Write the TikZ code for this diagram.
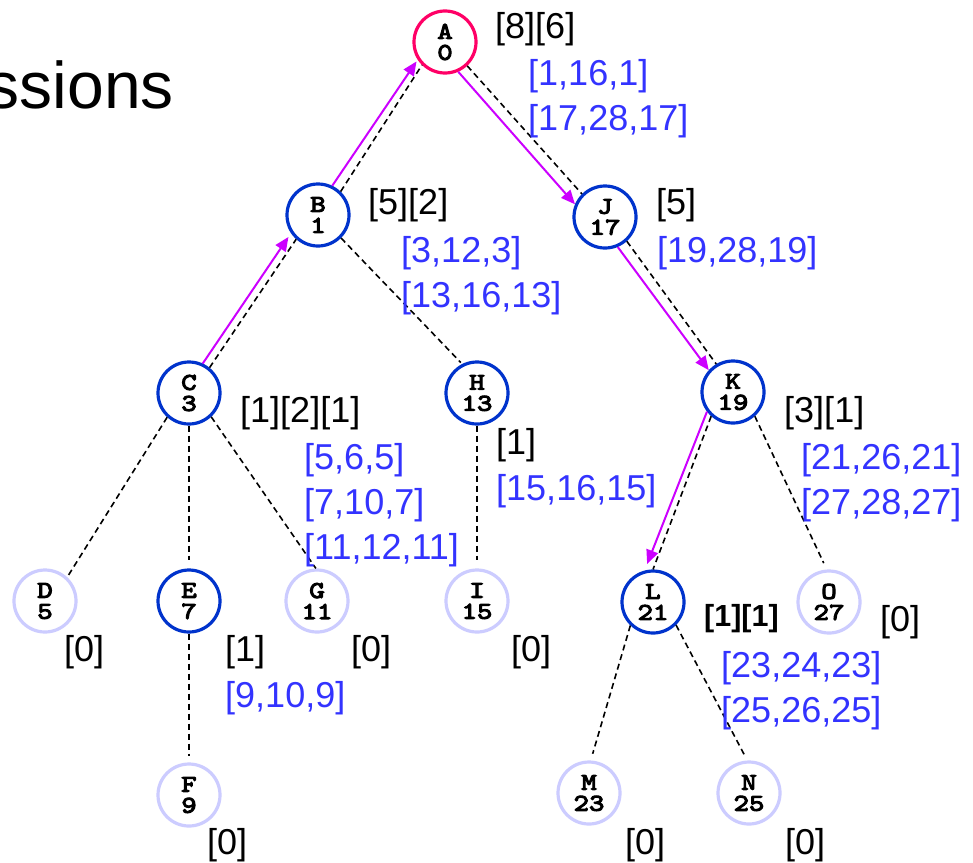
\documentclass[tikz,border=0pt]{standalone}
\usepackage{fontspec}
\setmainfont{Liberation Sans}
\newfontfamily\nodefont{lmmono10-regular.otf}[FakeBold=4.5, FakeStretch=1.22]
\usetikzlibrary{arrows.meta}
\definecolor{rootred}{RGB}{255,0,102}
\definecolor{nodeblue}{RGB}{0,51,204}
\definecolor{lightnode}{RGB}{204,204,255}
\definecolor{lblblue}{RGB}{51,51,255}
\definecolor{walkcol}{RGB}{204,0,255}
\tikzset{
  vtx/.style={circle, minimum size=62pt, inner sep=0pt, line width=3.2pt, align=center,
    font=\nodefont\fontsize{24}{21}\selectfont, text=black},
  rootv/.style={vtx, draw=rootred},
  bluev/.style={vtx, draw=nodeblue},
  lightv/.style={vtx, draw=lightnode},
  treeedge/.style={draw=black, line width=1.6pt, dash pattern=on 6pt off 4pt},
  walkarrow/.style={draw=walkcol, line width=2pt, -{Triangle[length=14pt,width=12pt]}},
  lbl/.style={anchor=base west, inner sep=0pt, font=\fontsize{36}{43}\selectfont, text=black},
  blbl/.style={lbl, text=lblblue},
  boldlbl/.style={lbl, font=\bfseries\fontsize{30.5}{36}\selectfont}
}
\begin{document}
\begin{tikzpicture}[x=1pt,y=-1pt]
\fill[white] (0,0) rectangle (973,862);
\useasboundingbox (0,0) rectangle (973,862);
\begin{scope}
\clip (0,0) rectangle (973,862);
\node[anchor=base east, inner sep=0pt, font=\fontsize{66}{70}\selectfont] (title) at (174,108) {ssions};

% vertices
\node[rootv]  (A) at (445,42)  {A\\0};
\node[bluev]  (B) at (318,215) {B\\1};
\node[bluev]  (J) at (605,217) {J\\17};
\node[bluev]  (C) at (189,393) {C\\3};
\node[bluev]  (H) at (477,393) {H\\13};
\node[bluev]  (K) at (733,392) {K\\19};
\node[lightv] (D) at (45,601)  {D\\5};
\node[bluev]  (E) at (189,601) {E\\7};
\node[lightv] (G) at (317,601) {G\\11};
\node[lightv] (I) at (477,601) {I\\15};
\node[bluev]  (L) at (653,602) {L\\21};
\node[lightv] (O) at (829,602) {O\\27};
\node[lightv] (F) at (189,795) {F\\9};
\node[lightv] (M) at (589,793) {M\\23};
\node[lightv] (N) at (749,793) {N\\25};

% tree edges and walk arrows
\draw[treeedge] (B.46) -- (A.225);
\draw[walkarrow, shorten >=2pt] (B.64) -- (A.213);
\draw[treeedge] (C.51) -- (B.228);
\draw[walkarrow, shorten >=4.5pt] (C.65) -- (B.214);
\draw[treeedge] (A.-47) -- (J.135);
\draw[walkarrow] (A.-66) -- (J.157);
\draw[treeedge] (J.-48) -- (K.121);
\draw[walkarrow] (J.-67) -- (K.138);
\draw[treeedge] (K.228) -- (L.90);
\draw[walkarrow, shorten >=7pt] (K.217) -- (L.105);
\draw[treeedge, shorten >=2pt] (B.-45) -- (H.117);
\draw[treeedge] (C.228) -- (D.47);
\draw[treeedge, shorten >=8pt] (C.-90) -- (E.90);
\draw[treeedge] (C.-47) -- (G.92);
\draw[treeedge, shorten >=8pt] (H.-90) -- (I.90);
\draw[treeedge, shorten >=6pt] (E.-90) -- (F.90);
\draw[treeedge, shorten >=7pt] (K.-48) -- (O.94);
\draw[treeedge, shorten >=7pt] (L.226) -- (M.87);
\draw[treeedge, shorten >=6pt] (L.-45) -- (N.93);

% labels
\node[lbl]  (lA1) at (495,38)  {[8][6]};
\node[blbl] (lA2) at (528,85)  {[1,16,1]};
\node[blbl] (lA3) at (528,130) {[17,28,17]};
\node[lbl]  (lB1) at (368,214) {[5][2]};
\node[blbl] (lB2) at (401,262) {[3,12,3]};
\node[blbl] (lB3) at (401,307) {[13,16,13]};
\node[lbl]  (lJ1) at (656,214) {[5]};
\node[blbl] (lJ2) at (657,262) {[19,28,19]};
\node[lbl]  (lC1) at (240,422) {[1][2][1]};
\node[blbl] (lC2) at (304,469) {[5,6,5]};
\node[blbl] (lC3) at (304,514) {[7,10,7]};
\node[blbl] (lC4) at (304,559) {[11,12,11]};
\node[lbl]  (lH1) at (496,454) {[1]};
\node[blbl] (lH2) at (496,500) {[15,16,15]};
\node[lbl]  (lK1) at (784,422) {[3][1]};
\node[blbl] (lK2) at (801,469) {[21,26,21]};
\node[blbl] (lK3) at (801,514) {[27,28,27]};
\node[lbl]  (lD)  at (64,661)  {[0]};
\node[lbl]  (lE1) at (225,661) {[1]};
\node[blbl] (lE2) at (225,707) {[9,10,9]};
\node[lbl]  (lG)  at (351,661) {[0]};
\node[lbl]  (lI)  at (511,661) {[0]};
\node[boldlbl] (lL1) at (704,626) {[1][1]};
\node[lbl]  (lO)  at (880,631) {[0]};
\node[blbl] (lL2) at (721,677) {[23,24,23]};
\node[blbl] (lL3) at (721,722) {[25,26,25]};
\node[lbl]  (lF)  at (207,854) {[0]};
\node[lbl]  (lM)  at (625,854) {[0]};
\node[lbl]  (lN)  at (785,854) {[0]};
\end{scope}
\end{tikzpicture}
\end{document}
